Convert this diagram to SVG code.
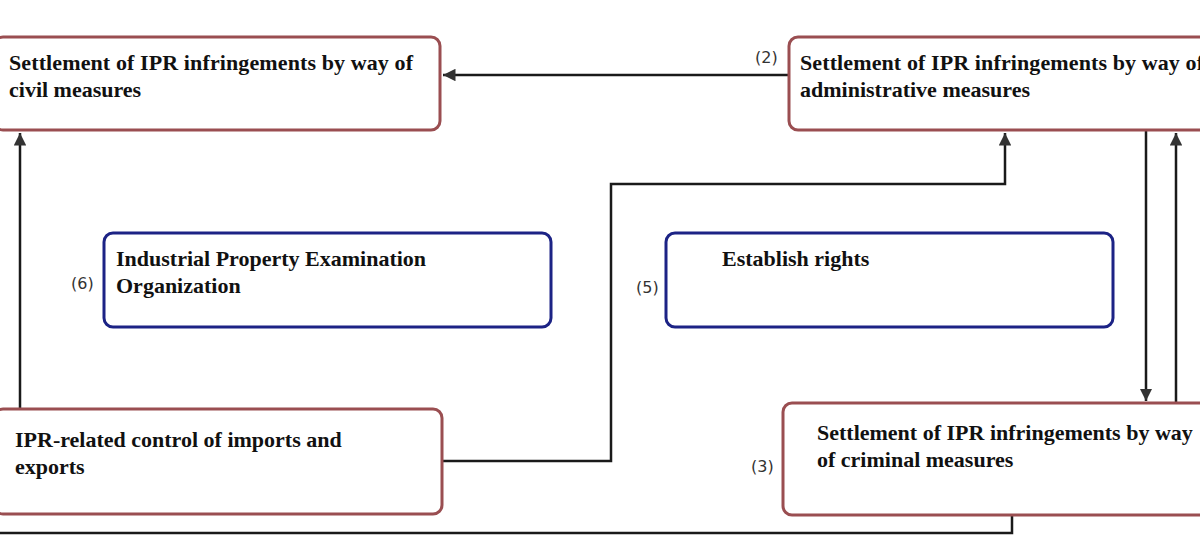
<svg xmlns="http://www.w3.org/2000/svg" width="1200" height="545" viewBox="0 0 1200 545">
<style>
.red{fill:#fff;stroke:#9a4e51;stroke-width:3}
.blue{fill:#fff;stroke:#1c2385;stroke-width:3}
.t{font-family:"Liberation Serif","Times New Roman",serif;font-weight:bold;font-size:22px;fill:#111}
.n{font-family:"DejaVu Sans","Liberation Sans",sans-serif;font-size:16px;fill:#333}
.c{fill:none;stroke:#1a1a1a;stroke-width:2.5}
</style>
<defs>
<marker id="ah" viewBox="0 0 10 10" refX="10" refY="5" markerWidth="5" markerHeight="5" orient="auto" markerUnits="strokeWidth">
<path d="M0,0 L10,5 L0,10 z" fill="#333"/>
</marker>
</defs>
<rect width="1200" height="545" fill="#fff"/>
<g id="connectors">
<path class="c" d="M789,75 H443" marker-end="url(#ah)"/>
<path class="c" d="M20,409 V133" marker-end="url(#ah)"/>
<path class="c" d="M443,461 H611 V184 H1005 V133" marker-end="url(#ah)"/>
<path class="c" d="M1146,131 V401" marker-end="url(#ah)"/>
<path class="c" d="M1176,403 V133" marker-end="url(#ah)"/>
<path class="c" d="M1012,515 V533 H0"/>
</g>
<g id="civil">
<rect class="red" x="-6" y="37" width="446" height="93" rx="9"/>
<text class="t" x="9" y="70" textLength="404">Settlement of IPR infringements by way of</text>
<text class="t" x="9" y="97">civil measures</text>
</g>
<g id="admin">
<rect class="red" x="789" y="37" width="420" height="93" rx="9"/>
<text class="n" x="755" y="63">(2)</text>
<text class="t" x="800" y="70" textLength="404">Settlement of IPR infringements by way of</text>
<text class="t" x="800" y="97">administrative measures</text>
</g>
<g id="examination">
<rect class="blue" x="104" y="233" width="447" height="94" rx="9"/>
<text class="n" x="71" y="289">(6)</text>
<text class="t" x="116" y="266">Industrial Property Examination</text>
<text class="t" x="116" y="293">Organization</text>
</g>
<g id="establish">
<rect class="blue" x="666" y="233" width="447" height="94" rx="9"/>
<text class="n" x="636" y="293">(5)</text>
<text class="t" x="722" y="266">Establish rights</text>
</g>
<g id="imports">
<rect class="red" x="-6" y="409" width="448" height="105" rx="9"/>
<text class="t" x="15" y="447">IPR-related control of imports and</text>
<text class="t" x="15" y="474">exports</text>
</g>
<g id="criminal">
<rect class="red" x="783" y="403" width="426" height="112" rx="9"/>
<text class="n" x="751" y="472">(3)</text>
<text class="t" x="817" y="440">Settlement of IPR infringements by way</text>
<text class="t" x="817" y="467">of criminal measures</text>
</g>
</svg>
